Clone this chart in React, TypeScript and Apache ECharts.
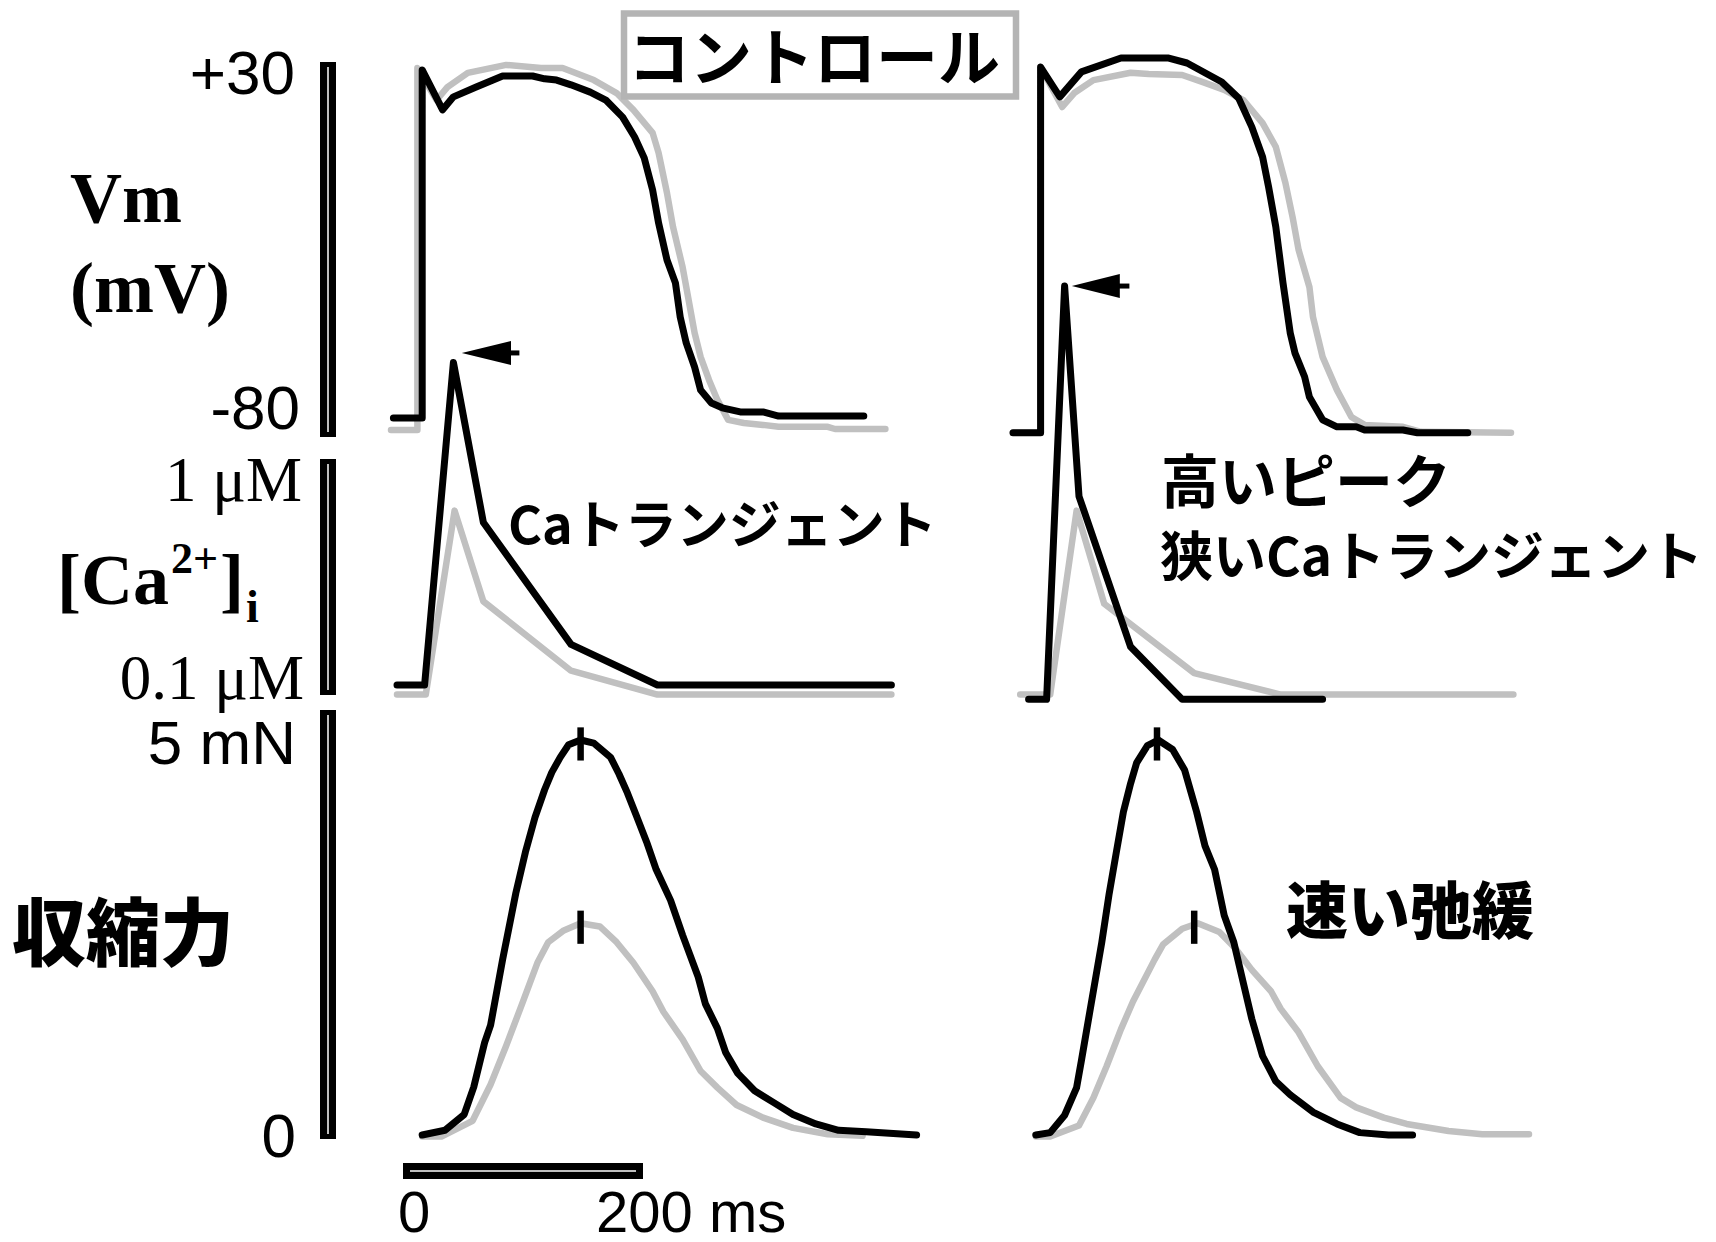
import React, { useEffect, useRef } from "react";
import * as echarts from "echarts";

// ---------- labels ----------
const boxTitle = "コントロール";
const vmTickLabels = ["+30", "-80"];
const caTickLabels = ["1 μM", "0.1 μM"];
const forceTickLabels = ["5 mN", "0"];
const timeTickLabels = ["0", "200 ms"];
const caNoteLeft = "Caトランジェント";
const caNoteRight = ["高いピーク", "狭いCaトランジェント"];
const forceNoteRight = "速い弛緩";
const forceTitle = "収縮力";

// ---------- membrane potential (ms, mV) ----------
const vmLeftCtrlT = [-10, 12, 12, 28, 37, 54, 86, 115, 133, 159, 178, 192, 208, 213, 220, 225, 233, 238, 243, 248, 255, 262, 271, 284, 300, 313, 354, 360, 402];
const vmLeftCtrlV = [-83.8, -83.8, 30.6, 20.5, 24.6, 29.1, 31.6, 30.6, 30.6, 26.8, 22.7, 17.4, 10.1, 3.8, -8.9, -19.6, -32.3, -42.7, -53.1, -60.7, -68.0, -74.3, -80.6, -81.6, -82.2, -82.8, -82.8, -83.5, -83.5];
const vmLeftDrugT = [-8, 16, 16, 33, 42, 61, 83, 108, 118, 128, 140, 156, 169, 183, 193, 201, 208, 213, 220, 227, 231, 236, 243, 248, 257, 266, 281, 300, 313, 384];
const vmLeftDrugV = [-80, -80, 30, 17.4, 21.5, 24.6, 28.1, 28.1, 27.2, 26.8, 25.3, 23.0, 20.5, 15.1, 8.8, 2.2, -7.9, -18.4, -30.1, -37.3, -48.1, -56.3, -63.9, -71.2, -75.3, -76.8, -78.1, -78.1, -79.4, -79.4];
const vmRightCtrlT = [-5, 18, 18, 36, 46, 62, 93, 108, 136, 155, 171, 187, 203, 214, 222, 228, 233, 242, 245, 253, 265, 277, 288, 320, 335, 410];
const vmRightCtrlV = [-84.7, -84.7, 30.9, 18.3, 22.7, 26.8, 29.1, 28.7, 28.4, 25.9, 23.7, 20.5, 13.2, 5.7, -5.7, -16.5, -26.9, -38.6, -48.1, -60.7, -71.2, -79.7, -82.2, -82.8, -84.4, -84.7];
const vmRightDrugT = [-5, 18, 18, 34, 52, 85, 124, 140, 169, 183, 194, 203, 208, 214, 220, 226, 230, 238, 242, 253, 265, 281, 288, 320, 332, 374];
const vmRightDrugV = [-84.7, -84.7, 30.9, 21.5, 29.4, 33.8, 33.8, 32.2, 26.2, 21.1, 12.0, 2.5, -7.0, -19.6, -37.3, -53.1, -59.5, -67.0, -73.4, -80.6, -82.8, -82.8, -83.8, -83.8, -84.7, -84.7];

// ---------- calcium (ms, μM) ----------
const caLeftCtrlT = [-5, 19, 43, 67, 140, 212, 407];
const caLeftCtrlV = [0.06, 0.06, 0.83, 0.45, 0.16, 0.06, 0.06];
const caLeftDrugT = [-5, 18, 42, 67, 140, 212, 407];
const caLeftDrugV = [0.1, 0.1, 1.45, 0.78, 0.27, 0.1, 0.1];
const caRightCtrlT = [1, 26, 48, 71, 146, 218, 412];
const caRightCtrlV = [0.06, 0.06, 0.83, 0.44, 0.15, 0.06, 0.06];
const caRightDrugT = [8, 23, 38, 50, 93, 136, 253];
const caRightDrugV = [0.04, 0.04, 1.77, 0.89, 0.26, 0.04, 0.04];

// ---------- force (ms, mN) ----------
const fLeftCtrlT = [16, 32, 58, 73, 86, 99, 112, 121, 134, 148, 164, 178, 192, 208, 217, 233, 248, 262, 278, 300, 325, 354, 383];
const fLeftCtrlV = [-0.02, -0.02, 0.18, 0.64, 1.13, 1.65, 2.18, 2.44, 2.59, 2.68, 2.64, 2.44, 2.18, 1.82, 1.56, 1.21, 0.81, 0.6, 0.38, 0.22, 0.09, 0.01, -0.01];
const fLeftDrugT = [16, 35, 51, 59, 68, 73, 83, 94, 102, 110, 118, 124, 131, 138, 148, 159, 173, 180, 187, 194, 203, 211, 223, 233, 246, 252, 262, 269, 279, 293, 309, 325, 344, 363, 386, 428];
const fLeftDrugV = [0, 0.06, 0.26, 0.61, 1.17, 1.39, 2.22, 3.06, 3.58, 4.02, 4.37, 4.59, 4.78, 4.94, 5.0, 4.96, 4.78, 4.57, 4.33, 4.06, 3.71, 3.36, 2.97, 2.53, 2.0, 1.66, 1.35, 1.04, 0.78, 0.56, 0.41, 0.26, 0.14, 0.06, 0.04, 0];
const fRightCtrlT = [14, 26, 50, 62, 73, 85, 95, 113, 120, 136, 149, 167, 181, 194, 210, 218, 233, 249, 268, 281, 304, 323, 358, 386, 425];
const fRightCtrlV = [-0.02, -0.02, 0.12, 0.47, 0.87, 1.34, 1.69, 2.22, 2.41, 2.61, 2.68, 2.57, 2.35, 2.09, 1.82, 1.6, 1.3, 0.87, 0.47, 0.35, 0.22, 0.14, 0.05, 0.01, 0.01];
const fRightDrugT = [14, 26, 38, 48, 52, 59, 69, 75, 81, 87, 93, 98, 107, 116, 128, 138, 148, 155, 163, 171, 179, 187, 194, 203, 214, 226, 245, 265, 284, 308, 328];
const fRightDrugV = [0, 0.03, 0.25, 0.6, 0.94, 1.56, 2.44, 3.04, 3.57, 4.09, 4.45, 4.71, 4.93, 5.0, 4.88, 4.62, 4.09, 3.66, 3.36, 2.78, 2.44, 1.92, 1.47, 1.0, 0.68, 0.51, 0.29, 0.14, 0.03, 0, 0];

// peak markers [time, low, high]
const peakLeftDrug = [148, 4.74, 5.16];
const peakLeftCtrl = [148, 2.42, 2.84];
const peakRightDrug = [115, 4.74, 5.16];
const peakRightCtrl = [146, 2.42, 2.84];

// Ca peak arrows [tip time, base time, tail time, level μM]
const arrowLeft = [49, 90, 97, 1.49];
const arrowRight = [44, 84, 92, 1.77];

const GRAY = "#c0c0c0";
const BLACK = "#000000";
const SANS = '"Liberation Sans", Arial, sans-serif';
const SERIF = '"Liberation Serif", "Times New Roman", serif';
const CJK = '"Noto Sans CJK JP", "Noto Sans CJK SC", sans-serif';
const LW_BLACK = 7;
const LW_GRAY = 6.5;

function pairs(t: number[], v: number[]) {
  return t.map((x, i) => [x, v[i]]);
}

function lineSeries(name: string, data: number[][], idx: number, color: string, lw: number, z = 2) {
  return {
    type: "line",
    name,
    data,
    xAxisIndex: idx,
    yAxisIndex: idx,
    showSymbol: false,
    symbol: "none",
    silent: true,
    clip: false,
    z,
    lineStyle: { color, width: lw, cap: "round", join: "round" },
  };
}

function tickSeries(p: number[], idx: number) {
  return {
    type: "line",
    data: [[p[0], p[1]], [p[0], p[2]]],
    xAxisIndex: idx,
    yAxisIndex: idx,
    showSymbol: false,
    symbol: "none",
    silent: true,
    clip: false,
    z: 4,
    lineStyle: { color: BLACK, width: 6.5, cap: "butt" },
  };
}

function arrowSeries(a: number[], idx: number) {
  return {
    type: "custom",
    xAxisIndex: idx,
    yAxisIndex: idx,
    data: [a],
    encode: { x: [0, 1, 2], y: 3 },
    silent: true,
    clip: false,
    z: 5,
    renderItem: (params: any, api: any) => {
      const tip = api.coord([api.value(0), api.value(3)]);
      const base = api.coord([api.value(1), api.value(3)]);
      const tail = api.coord([api.value(2), api.value(3)]);
      return {
        type: "group",
        children: [
          {
            type: "polygon",
            shape: { points: [tip, [base[0], base[1] - 12], [base[0], base[1] + 12]] },
            style: { fill: BLACK },
          },
          {
            type: "line",
            shape: { x1: base[0] - 2, y1: base[1], x2: tail[0], y2: tail[1] },
            style: { stroke: BLACK, lineWidth: 5 },
          },
        ],
      };
    },
  };
}

function txt(text: string, x: number, y: number, font: string, align = "left", extra: any = {}) {
  return {
    type: "text",
    x,
    y,
    z: 20,
    silent: true,
    style: {
      text,
      font,
      fill: BLACK,
      align,
      verticalAlign: "middle",
      textAlign: align,
      textVerticalAlign: "middle",
      ...extra,
    },
  };
}

function scaleBarV(x: number, y1: number, y2: number) {
  return [
    { type: "rect", z: 20, silent: true, shape: { x, y: y1, width: 16, height: y2 - y1 }, style: { fill: BLACK } },
    { type: "line", z: 21, silent: true, shape: { x1: x + 8, y1: y1 + 5, x2: x + 8, y2: y2 - 5 }, style: { stroke: "#ffffff", lineWidth: 1.5 } },
  ];
}

export default function App() {
  const ref = useRef<HTMLDivElement>(null);

  useEffect(() => {
    const chart = echarts.init(ref.current!, null, { renderer: "svg" });

    const LEFT_X = 355;
    const RIGHT_X = 971;
    const W = 600;
    const grids = [
      { left: LEFT_X, top: 6.7, width: W, height: 474.5 },
      { left: RIGHT_X, top: 6.7, width: W, height: 474.5 },
      { left: LEFT_X, top: 231.1, width: W, height: 477.8 },
      { left: RIGHT_X, top: 231.1, width: W, height: 477.8 },
      { left: LEFT_X, top: 661, width: W, height: 553 },
      { left: RIGHT_X, top: 661, width: W, height: 553 },
    ];
    const yRanges = [[-100, 50], [-100, 50], [0, 2], [0, 2], [-1, 6], [-1, 6]];

    const option: any = {
      animation: false,
      backgroundColor: "#ffffff",
      grid: grids.map((g) => ({ ...g, containLabel: false, show: false })),
      xAxis: grids.map((_, i) => ({ type: "value", gridIndex: i, min: -40, max: 460, show: false })),
      yAxis: yRanges.map(([mn, mx], i) => ({ type: "value", gridIndex: i, min: mn, max: mx, show: false })),
      series: [
        lineSeries("Vm control L", pairs(vmLeftCtrlT, vmLeftCtrlV), 0, GRAY, LW_GRAY),
        lineSeries("Vm L", pairs(vmLeftDrugT, vmLeftDrugV), 0, BLACK, LW_BLACK, 3),
        lineSeries("Vm control R", pairs(vmRightCtrlT, vmRightCtrlV), 1, GRAY, LW_GRAY),
        lineSeries("Vm R", pairs(vmRightDrugT, vmRightDrugV), 1, BLACK, LW_BLACK, 3),
        lineSeries("Ca control L", pairs(caLeftCtrlT, caLeftCtrlV), 2, GRAY, LW_GRAY),
        lineSeries("Ca L", pairs(caLeftDrugT, caLeftDrugV), 2, BLACK, LW_BLACK, 3),
        lineSeries("Ca control R", pairs(caRightCtrlT, caRightCtrlV), 3, GRAY, LW_GRAY),
        lineSeries("Ca R", pairs(caRightDrugT, caRightDrugV), 3, BLACK, LW_BLACK, 3),
        lineSeries("F control L", pairs(fLeftCtrlT, fLeftCtrlV), 4, GRAY, LW_GRAY),
        lineSeries("F L", pairs(fLeftDrugT, fLeftDrugV), 4, BLACK, LW_BLACK, 3),
        lineSeries("F control R", pairs(fRightCtrlT, fRightCtrlV), 5, GRAY, LW_GRAY),
        lineSeries("F R", pairs(fRightDrugT, fRightDrugV), 5, BLACK, LW_BLACK, 3),
        tickSeries(peakLeftDrug, 4),
        tickSeries(peakLeftCtrl, 4),
        tickSeries(peakRightDrug, 5),
        tickSeries(peakRightCtrl, 5),
        arrowSeries(arrowLeft, 2),
        arrowSeries(arrowRight, 3),
      ],
      graphic: [
        // scale bars
        ...scaleBarV(320, 62, 437),
        ...scaleBarV(320, 459, 695),
        ...scaleBarV(320, 710, 1139),
        { type: "rect", z: 20, silent: true, shape: { x: 403, y: 1163, width: 240, height: 16 }, style: { fill: BLACK } },
        { type: "line", z: 21, silent: true, shape: { x1: 410, y1: 1171, x2: 636, y2: 1171 }, style: { stroke: "#ffffff", lineWidth: 1.5 } },
        // control box
        {
          type: "rect",
          z: 20,
          silent: true,
          shape: { x: 624, y: 13.5, width: 392, height: 83 },
          style: { fill: "none", stroke: "#b4b4b4", lineWidth: 6.5 },
        },
        txt(boxTitle, 628, 54, `bold 62px ${CJK}`),
        // Vm axis labels
        txt(vmTickLabels[0], 295, 72, `62px ${SANS}`, "right"),
        txt(vmTickLabels[1], 300, 407, `62px ${SANS}`, "right"),
        txt("Vm", 70, 198, `bold 72px ${SERIF}`),
        txt("(mV)", 70, 288, `bold 72px ${SERIF}`),
        // Ca axis labels
        txt(caTickLabels[0], 302, 480, `63px ${SERIF}`, "right"),
        txt(caTickLabels[1], 304, 678, `63px ${SERIF}`, "right"),
        txt("[Ca", 57, 580, `bold 72px ${SERIF}`),
        txt("2+", 171, 558, `bold 44px ${SERIF}`),
        txt("]", 220, 580, `bold 72px ${SERIF}`),
        txt("i", 246, 606, `bold 46px ${SERIF}`),
        // force axis labels
        txt(forceTickLabels[0], 296, 742, `62px ${SANS}`, "right"),
        txt(forceTickLabels[1], 296, 1135, `62px ${SANS}`, "right"),
        txt(forceTitle, 12, 927, `900 74px ${CJK}`),
        // time labels
        txt(timeTickLabels[0], 414, 1211, `58px ${SANS}`, "center"),
        txt(timeTickLabels[1], 596, 1211, `58px ${SANS}`),
        // annotations
        txt(caNoteLeft, 508, 521, `bold 52px ${CJK}`),
        txt(caNoteRight[0], 1161, 478, `bold 58px ${CJK}`),
        txt(caNoteRight[1], 1160, 553, `bold 53px ${CJK}`),
        txt(forceNoteRight, 1286, 907, `900 62px ${CJK}`),
      ],
    };

    chart.setOption(option);
    return () => {
      chart.dispose();
    };
  }, []);

  return (
    <div
      ref={ref}
      style={{ position: "absolute", left: 0, top: 0, width: 1716, height: 1242, background: "#fff" }}
    />
  );
}
